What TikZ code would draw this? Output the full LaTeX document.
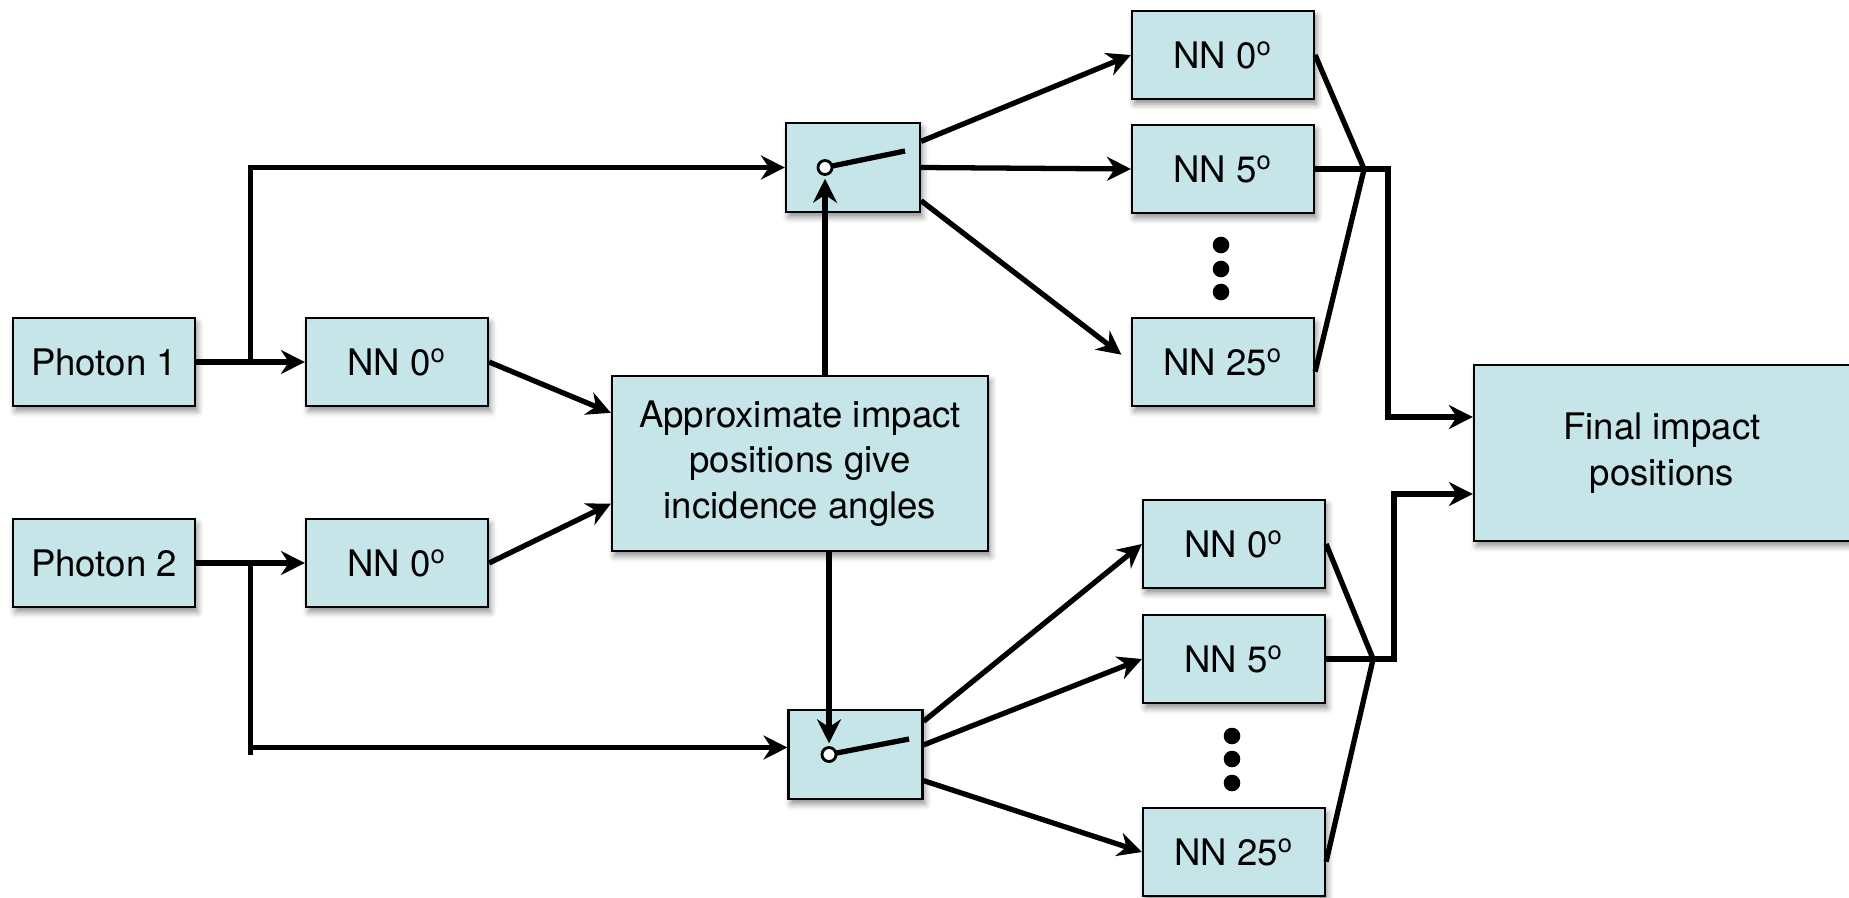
\documentclass[tikz,border=0pt]{standalone}
\usepackage{fontspec}
\setmainfont{TeX Gyre Heros}
\usetikzlibrary{arrows.meta,calc,shadows.blur}
\definecolor{boxblue}{HTML}{C6E5E9}
\newcommand{\nntext}[1]{NN #1\textsuperscript{o}}
\newcommand{\textap}{Approximate impact\\ positions give\\ incidence angles}
\newcommand{\textfin}{Final impact\\ positions}

\begin{document}
\begin{tikzpicture}[
    x=0.01cm,y=-0.01cm,
    any/.style={draw,line width=0.6pt,fill=boxblue,inner sep=0pt,align=center,
      font=\fontsize{10.4}{13}\selectfont,
      minimum width=1.82cm,minimum height=0.88cm,
      blur shadow={shadow xshift=0.025cm,shadow yshift=-0.05cm,shadow blur radius=0.06cm,shadow opacity=45}},
    big/.style={any,minimum width=3.76cm,minimum height=1.75cm},
    switchbox/.style={any,minimum width=1.34cm,minimum height=0.89cm},
    pivot/.style={circle,draw,line width=0.8pt,fill=white,inner sep=0pt,minimum size=0.14cm},
    line/.style={line width=1.5pt},
    conn/.style={line,-{Stealth[length=6.8pt,width=6.8pt]}}
]
\useasboundingbox (0,0) rectangle (1849,897);

% inputs
\node[any] (ph1) at (104,362) {Photon 1};
\node[any] (ph2) at (104,563) {Photon 2};
\node[any] (nnA) at (397,362) {\nntext{0}};
\node[any] (nnB) at (397,563) {\nntext{0}};
\node[big] (approx) at (800,463.5) {\textap};

% switches
\node[switchbox] (swtop) at (853,167.5) {};
\node[switchbox] (swbot) at (855.5,754.5) {};
\coordinate (pivA) at ($(swtop)+(-28,0)$);
\coordinate (pivB) at ($(swbot)+(-26.5,0)$);

% networks
\node[any] (ta) at (1223,55) {\nntext{0}};
\node[any] (tb) at (1223,169) {\nntext{5}};
\node[any] (tc) at (1223,362) {\nntext{25}};
\node[any] (ba) at (1234,544) {\nntext{0}};
\node[any] (bb) at (1234,659) {\nntext{5}};
\node[any] (bc) at (1234,852) {\nntext{25}};
\foreach \y in {245,269,292} \fill (1221,\y) circle (0.083cm);
\foreach \y in {736,759,783} \fill (1232,\y) circle (0.083cm);

\node[big,minimum height=1.76cm] (final) at (1662,453) {\textfin};

% left side
\coordinate (forkA) at ($(ph1.east)!.5!(nnA.west)$);
\coordinate (forkB) at ($(ph2.east)!.5!(nnB.west)$);
\draw[conn] (ph1) -- (nnA);
\draw[conn] (ph2) -- (nnB);
\draw[conn] (forkA) |- (swtop.west);
\draw[line] (forkB) -- (forkB |- swbot.west);
\draw[conn] ($(forkB |- swbot.west)+(0,-7)$) -- ($(swbot.west)+(0,-7)$);
\draw[conn] (nnA.east) -- (approx.165);
\draw[conn] (nnB.east) -- (approx.192);

% switch levers
\draw[conn,shorten >=3.2pt] (approx.north -| pivA) -- (pivA);
\draw[conn,shorten >=3.2pt] (approx.south -| pivB) -- (pivB);
\draw[line] (pivA) -- ++(80,-16.5);
\draw[line] (pivB) -- ++(80,-15.5);
\node[pivot] at (pivA) {};
\node[pivot] at (pivB) {};

% fan out
\draw[conn] (swtop.21) -- (ta.west);
\draw[conn] (swtop.east) -- (tb.west);
\draw[conn,shorten >=0.12cm] (swtop.-26) -- (tc.west);
\draw[conn] (swbot.26) -- (ba.west);
\draw[conn] (swbot.8) -- (bb.west);
\draw[conn] (swbot.-21) -- (bc.west);

% merge
\coordinate (joinA) at ($(tb.east)+(49,0)$);
\coordinate (joinB) at ($(bb.east)+(47,0)$);
\draw[line] (ta.east) -- (joinA) -- (tc.-6);
\draw[line] (tb.east) -- (joinA);
\draw[line] (ba.east) -- (joinB) -- (bc.-6);
\draw[line] (bb.east) -- (joinB);
\draw[conn] (joinA) -- ++(24,0) |- ($(final.west)+(0,-36)$);
\draw[conn] (joinB) -- ++(21,0) |- ($(final.west)+(0,41)$);
\end{tikzpicture}
\end{document}
